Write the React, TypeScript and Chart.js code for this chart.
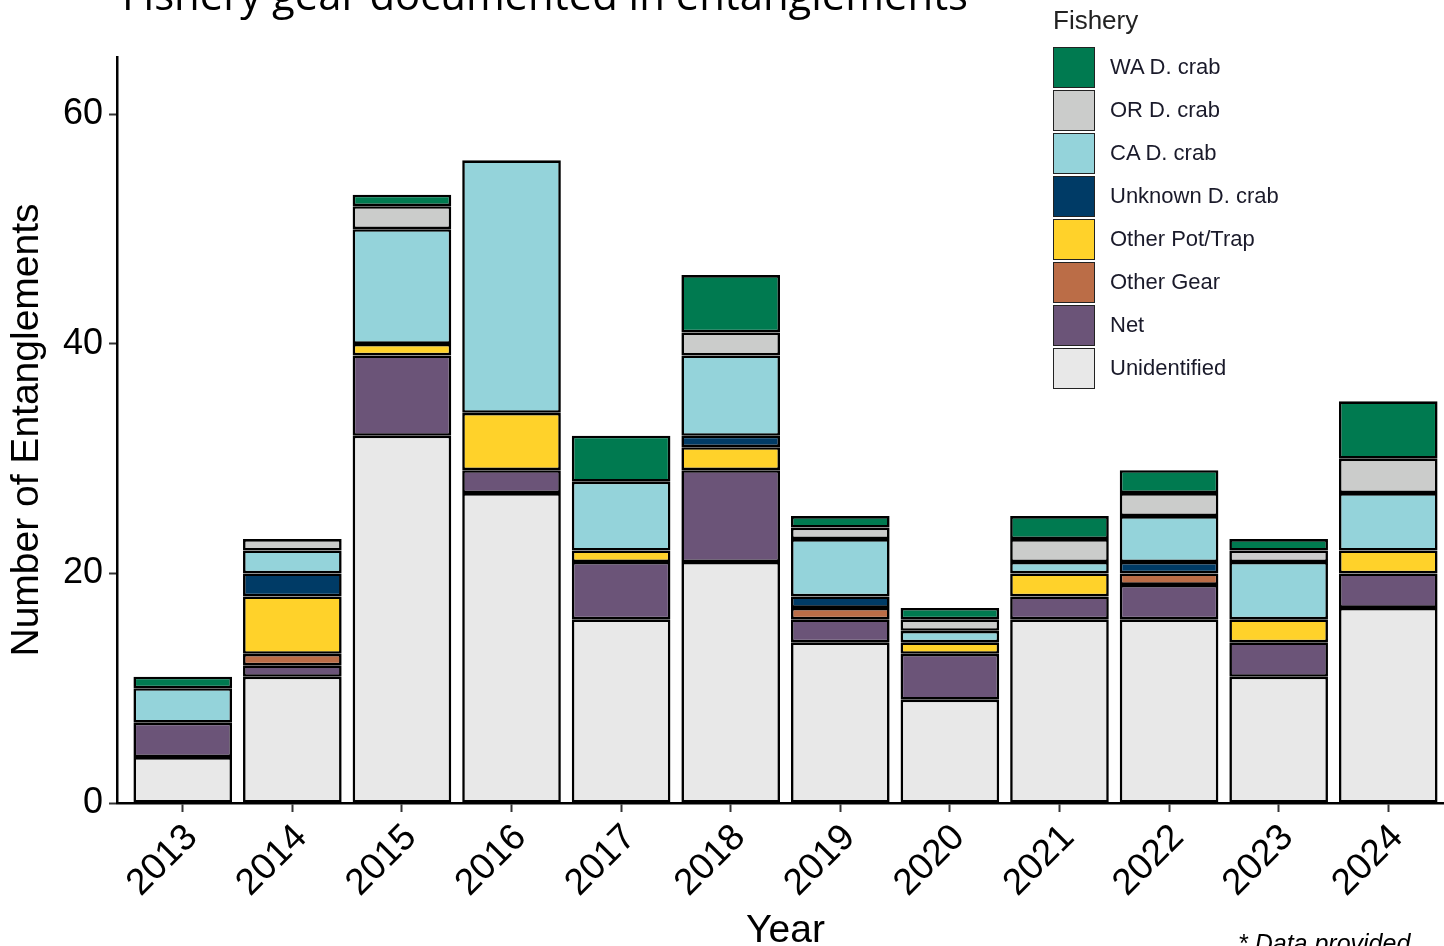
import React, { useEffect, useRef } from "react";
import { Chart, registerables } from "chart.js";

Chart.register(...registerables);

const years = ["2013", "2014", "2015", "2016", "2017", "2018", "2019", "2020", "2021", "2022", "2023", "2024"];
const unidentified = [4, 11, 32, 27, 16, 21, 14, 9, 16, 16, 11, 17];
const net = [3, 1, 7, 2, 5, 8, 2, 4, 2, 3, 3, 3];
const otherGear = [0, 1, 0, 0, 0, 0, 1, 0, 0, 1, 0, 0];
const otherPotTrap = [0, 5, 1, 5, 1, 2, 0, 1, 2, 0, 2, 2];
const unknownCrab = [0, 2, 0, 0, 0, 1, 1, 0, 0, 1, 0, 0];
const caCrab = [3, 2, 10, 22, 6, 7, 5, 1, 1, 4, 5, 5];
const orCrab = [0, 1, 2, 0, 0, 2, 1, 1, 2, 2, 1, 3];
const waCrab = [1, 0, 1, 0, 4, 5, 1, 1, 2, 2, 1, 5];
const yTicks = [0, 20, 40, 60];

const seriesNames = ["Unidentified", "Net", "Other Gear", "Other Pot/Trap", "Unknown D. crab", "CA D. crab", "OR D. crab", "WA D. crab"];
const seriesValues = [unidentified, net, otherGear, otherPotTrap, unknownCrab, caCrab, orCrab, waCrab];
const seriesColors = ["#E8E8E8", "#6B5478", "#BB6D47", "#FFD22A", "#003B66", "#94D3DA", "#CBCCCB", "#007A50"];

const titleText = "Fishery gear documented in entanglements";
const FONT = "'Liberation Sans', Arial, sans-serif";

export default function App() {
  const ref = useRef<HTMLCanvasElement>(null);

  useEffect(() => {
    if (!ref.current) return;
    const titlePlugin = {
      id: "topTitle",
      afterDraw(chart: any) {
        const ctx = chart.ctx;
        ctx.save();
        ctx.fillStyle = "#000";
        ctx.font = "42px 'Open Sans', sans-serif";
        ctx.textBaseline = "alphabetic";
        ctx.textAlign = "left";
        ctx.fillText(titleText, 122, 10, 846);
        ctx.restore();
      },
    };
    const chart = new Chart(ref.current, {
      type: "bar",
      data: {
        datasets: seriesNames.map((name, k) => ({
          label: name,
          data: seriesValues[k].map((v, i) => ({ x: i, y: v === 0 ? null : v })) as any,
          backgroundColor: seriesColors[k],
          borderColor: "#000",
          borderWidth: 2.6,
          borderSkipped: false,
          inflateAmount: 0,
          barPercentage: 0.9,
          categoryPercentage: 1.0,
        })),
      },
      options: {
        animation: false,
        responsive: false,
        devicePixelRatio: 1,
        layout: { padding: { top: 57, right: 6, bottom: 0, left: 0 } },
        plugins: { legend: { display: false }, tooltip: { enabled: false } },
        scales: {
          x: {
            type: "linear",
            stacked: true,
            offset: false,
            min: -0.6,
            max: 11.6,
            afterBuildTicks: (s: any) => {
              s.ticks = years.map((_, i) => ({ value: i }));
            },
            afterFit: (s: any) => {
              s.height = 143;
            },
            ticks: {
              autoSkip: false,
              minRotation: 45,
              maxRotation: 45,
              padding: 4,
              labelOffset: 9,
              color: "#000",
              font: { family: FONT, size: 37 },
              callback: (v: any) => years[v as number] ?? "",
            },
            grid: { display: true, offset: false, drawOnChartArea: false, drawTicks: true, tickLength: 9, tickWidth: 2, tickColor: "#333" },
            border: { display: true, color: "#000", width: 2.5 },
            title: {
              display: true,
              text: "Year",
              color: "#000",
              font: { family: FONT, size: 39, lineHeight: 1 },
              padding: { top: 0, bottom: -5 },
            },
          },
          y: {
            stacked: true,
            min: 0,
            max: 65,
            afterBuildTicks: (s: any) => {
              s.ticks = yTicks.map((v) => ({ value: v }));
            },
            afterFit: (s: any) => {
              s.width = 117;
            },
            ticks: {
              padding: 6,
              color: "#000",
              font: { family: FONT, size: 36 },
            },
            grid: { display: true, drawOnChartArea: false, drawTicks: true, tickLength: 8, tickWidth: 2, tickColor: "#333" },
            border: { display: true, color: "#000", width: 2.5 },
            title: {
              display: true,
              text: "Number of Entanglements",
              color: "#000",
              font: { family: FONT, size: 39, lineHeight: 1.2 },
              padding: { top: 4, bottom: 0 },
            },
          },
        },
      },
      plugins: [titlePlugin],
    });
    return () => chart.destroy();
  }, []);

  const legendOrder = [7, 6, 5, 4, 3, 2, 1, 0];

  return (
    <div style={{ position: "fixed", left: 0, top: 0, width: 1444, height: 946, overflow: "hidden", background: "#fff" }}>
      <canvas ref={ref} width={1460} height={946} style={{ position: "absolute", left: 0, top: 0, width: 1460, height: 946 }} />
      <div style={{ position: "absolute", left: 1053, top: 4, fontFamily: FONT, fontSize: 26, color: "#222", lineHeight: "32px" }}>
        Fishery
      </div>
      {legendOrder.map((k, j) => (
        <div key={k} style={{ position: "absolute", left: 1053, top: 46 + j * 43, height: 42, display: "flex", alignItems: "center" }}>
          <div
            style={{
              width: 42,
              height: 41,
              boxSizing: "border-box",
              border: "1.5px solid #222",
              background: seriesColors[k],
            }}
          />
          <span style={{ marginLeft: 15, fontFamily: FONT, fontSize: 22, color: "#1a1a2a" }}>{seriesNames[k]}</span>
        </div>
      ))}
      <div style={{ position: "absolute", left: 1238, top: 929, fontFamily: FONT, fontStyle: "italic", fontSize: 25, color: "#000", whiteSpace: "nowrap" }}>
        * Data provided
      </div>
    </div>
  );
}
